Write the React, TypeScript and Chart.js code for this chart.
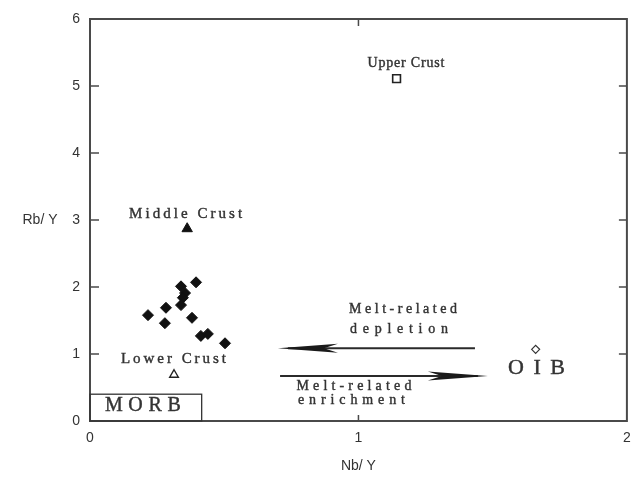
import React, { useEffect, useRef } from "react";
import { Chart, registerables } from "chart.js";

Chart.register(...registerables);

// Sample data (Nb/Y, Rb/Y)
const sampleNbY = [0.216, 0.283, 0.279, 0.339, 0.395, 0.354, 0.346, 0.339, 0.380, 0.413, 0.439, 0.503];
const sampleRbY = [1.58, 1.69, 1.46, 2.01, 2.07, 1.91, 1.84, 1.73, 1.54, 1.27, 1.30, 1.16];

// Reference compositions [Nb/Y, Rb/Y]
const upperCrust = [1.142, 5.11];
const middleCrust = [0.362, 2.87];
const lowerCrust = [0.313, 0.69];
const oib = [1.66, 1.07];
// MORB field box [xMin, xMax, yMin, yMax]
const morbBox = [0, 0.416, 0, 0.40];

// Axis
const xTicks = [0, 1, 2];
const yTicks = [0, 1, 2, 3, 4, 5, 6];
const xTitle = "Nb/ Y";
const yTitle = "Rb/ Y";

// Annotation labels
const labelTexts = ["Upper Crust", "Middle Crust", "Lower Crust", "MORB", "OIB", "Melt-related", "depletion", "Melt-related", "enrichment"];
const labelX = [1.177, 0.356, 0.311, 0.197, 1.663, 1.166, 1.151, 0.983, 0.974];
const labelY = [5.34, 3.09, 0.925, 0.224, 0.79, 1.664, 1.373, 0.522, 0.313];
const labelSize = [14, 15, 15, 20, 22, 14, 14, 14, 14];
const labelWidth = [77, 113, 105, 76, 57, 108, 98, 115, 107];

// Arrows: [xFrom, xTo, y]
const depletionArrow = [1.434, 0.700, 1.085];
const enrichmentArrow = [0.708, 1.482, 0.672];

const AXIS_COLOR = "#4a4a4a";
const TEXT_COLOR = "#333333";

function drawSpaced(ctx: CanvasRenderingContext2D, text: string, cx: number, cy: number, size: number, width: number) {
  ctx.save();
  ctx.font = `${size}px "Liberation Serif", serif`;
  (ctx as any).letterSpacing = "0px";
  const w0 = ctx.measureText(text).width;
  const n = text.length;
  const sp = n > 1 ? Math.max(0, (width - w0) / (n - 1)) : 0;
  (ctx as any).letterSpacing = `${sp}px`;
  ctx.fillStyle = TEXT_COLOR;
  ctx.strokeStyle = TEXT_COLOR;
  ctx.lineWidth = 0.4;
  ctx.textBaseline = "middle";
  ctx.textAlign = "left";
  ctx.fillText(text, cx - width / 2, cy);
  ctx.strokeText(text, cx - width / 2, cy);
  ctx.restore();
}

function drawArrow(ctx: CanvasRenderingContext2D, x1: number, x2: number, y: number) {
  const dir = x2 > x1 ? 1 : -1;
  ctx.save();
  ctx.strokeStyle = "#2a2a2a";
  ctx.fillStyle = "#1a1a1a";
  ctx.lineWidth = 2;
  ctx.beginPath();
  ctx.moveTo(x1, y);
  ctx.lineTo(x2 - dir * 10, y);
  ctx.stroke();
  const len = 60;
  ctx.beginPath();
  ctx.moveTo(x2, y);
  ctx.lineTo(x2 - dir * len, y - 4.5);
  ctx.lineTo(x2 - dir * (len - 14), y);
  ctx.lineTo(x2 - dir * len, y + 4.5);
  ctx.closePath();
  ctx.fill();
  ctx.restore();
}

const overlayPlugin = {
  id: "overlay",
  afterDatasetsDraw(chart: any) {
    const ctx: CanvasRenderingContext2D = chart.ctx;
    const xs = chart.scales.x;
    const ys = chart.scales.y;
    const { left, right, top, bottom } = chart.chartArea;
    ctx.save();
    ctx.strokeStyle = AXIS_COLOR;
    ctx.lineWidth = 2;
    ctx.strokeRect(left, top, right - left, bottom - top);
    ctx.lineWidth = 1.5;
    ctx.beginPath();
    for (const v of yTicks) {
      if (v === yTicks[0] || v === yTicks[yTicks.length - 1]) continue;
      const py = ys.getPixelForValue(v);
      ctx.moveTo(left, py);
      ctx.lineTo(left + 9, py);
      ctx.moveTo(right, py);
      ctx.lineTo(right - 8, py);
    }
    for (const v of xTicks) {
      if (v === xTicks[0] || v === xTicks[xTicks.length - 1]) continue;
      const px = xs.getPixelForValue(v);
      ctx.moveTo(px, bottom);
      ctx.lineTo(px, bottom - 6);
      ctx.moveTo(px, top);
      ctx.lineTo(px, top + 7);
    }
    ctx.stroke();
    ctx.lineWidth = 1.3;
    ctx.strokeStyle = "#333";
    const bx1 = xs.getPixelForValue(morbBox[0]);
    const bx2 = xs.getPixelForValue(morbBox[1]);
    const by1 = ys.getPixelForValue(morbBox[2]);
    const by2 = ys.getPixelForValue(morbBox[3]);
    ctx.strokeRect(bx1, by2, bx2 - bx1, by1 - by2);
    ctx.restore();

    for (let i = 0; i < labelTexts.length; i++) {
      drawSpaced(ctx, labelTexts[i], xs.getPixelForValue(labelX[i]), ys.getPixelForValue(labelY[i]), labelSize[i], labelWidth[i]);
    }
    drawArrow(ctx, xs.getPixelForValue(depletionArrow[0]), xs.getPixelForValue(depletionArrow[1]), ys.getPixelForValue(depletionArrow[2]));
    drawArrow(ctx, xs.getPixelForValue(enrichmentArrow[0]), xs.getPixelForValue(enrichmentArrow[1]), ys.getPixelForValue(enrichmentArrow[2]));

    ctx.save();
    ctx.fillStyle = TEXT_COLOR;
    ctx.font = `14px "Liberation Sans", Arial, sans-serif`;
    ctx.textAlign = "center";
    ctx.textBaseline = "middle";
    ctx.fillText(yTitle, 40, ys.getPixelForValue(3));
    ctx.fillText(xTitle, xs.getPixelForValue(1), 466);
    ctx.restore();
  },
};

export default function App() {
  const ref = useRef<HTMLCanvasElement | null>(null);
  useEffect(() => {
    document.body.style.margin = "0";
    const canvas = ref.current!;
    const chart = new Chart(canvas, {
      type: "scatter",
      data: {
        datasets: [
          {
            label: "Samples",
            data: sampleNbY.map((x, i) => ({ x, y: sampleRbY[i] })),
            pointStyle: "rectRot",
            pointRadius: 5.5,
            backgroundColor: "#111",
            borderColor: "#111",
            borderWidth: 1,
          },
          {
            label: "Upper Crust",
            data: [{ x: upperCrust[0], y: upperCrust[1] }],
            pointStyle: "rect",
            pointRadius: 5.5,
            backgroundColor: "#fff",
            borderColor: "#222",
            borderWidth: 1.6,
          },
          {
            label: "Middle Crust",
            data: [{ x: middleCrust[0], y: middleCrust[1] }],
            pointStyle: "triangle",
            pointRadius: 6,
            backgroundColor: "#111",
            borderColor: "#111",
            borderWidth: 1,
          },
          {
            label: "Lower Crust",
            data: [{ x: lowerCrust[0], y: lowerCrust[1] }],
            pointStyle: "triangle",
            pointRadius: 5,
            backgroundColor: "#fff",
            borderColor: "#222",
            borderWidth: 1.4,
          },
          {
            label: "OIB",
            data: [{ x: oib[0], y: oib[1] }],
            pointStyle: "rectRot",
            pointRadius: 4,
            backgroundColor: "#fff",
            borderColor: "#333",
            borderWidth: 1.2,
          },
        ],
      },
      options: {
        animation: false,
        responsive: false,
        maintainAspectRatio: false,
        layout: { padding: { top: 19, right: 0, left: 0, bottom: 0 } },
        plugins: { legend: { display: false }, tooltip: { enabled: false } },
        scales: {
          x: {
            type: "linear",
            min: 0,
            max: 2,
            afterFit: (s: any) => { s.height = 59; s.paddingRight = 7; },
            afterBuildTicks: (s: any) => { s.ticks = xTicks.map((v) => ({ value: v })); },
            ticks: {
              padding: 9,
              color: TEXT_COLOR,
              font: { family: '"Liberation Sans", Arial, sans-serif', size: 14 },
            },
            grid: { display: true, drawOnChartArea: false, drawTicks: false },
            border: { display: true, color: AXIS_COLOR, width: 2 },
          },
          y: {
            type: "linear",
            min: 0,
            max: 6,
            afterFit: (s: any) => { s.width = 90; },
            afterBuildTicks: (s: any) => { s.ticks = yTicks.map((v) => ({ value: v })); },
            ticks: {
              padding: 10,
              color: TEXT_COLOR,
              font: { family: '"Liberation Sans", Arial, sans-serif', size: 14 },
            },
            grid: { display: true, drawOnChartArea: false, drawTicks: false },
            border: { display: true, color: AXIS_COLOR, width: 2 },
          },
        },
      },
      plugins: [overlayPlugin],
    });
    return () => chart.destroy();
  }, []);
  return (
    <div style={{ position: "absolute", left: 0, top: 0, width: 634, height: 480, background: "#fff" }}>
      <canvas ref={ref} width={634} height={480} style={{ display: "block", width: 634, height: 480 }} />
    </div>
  );
}
